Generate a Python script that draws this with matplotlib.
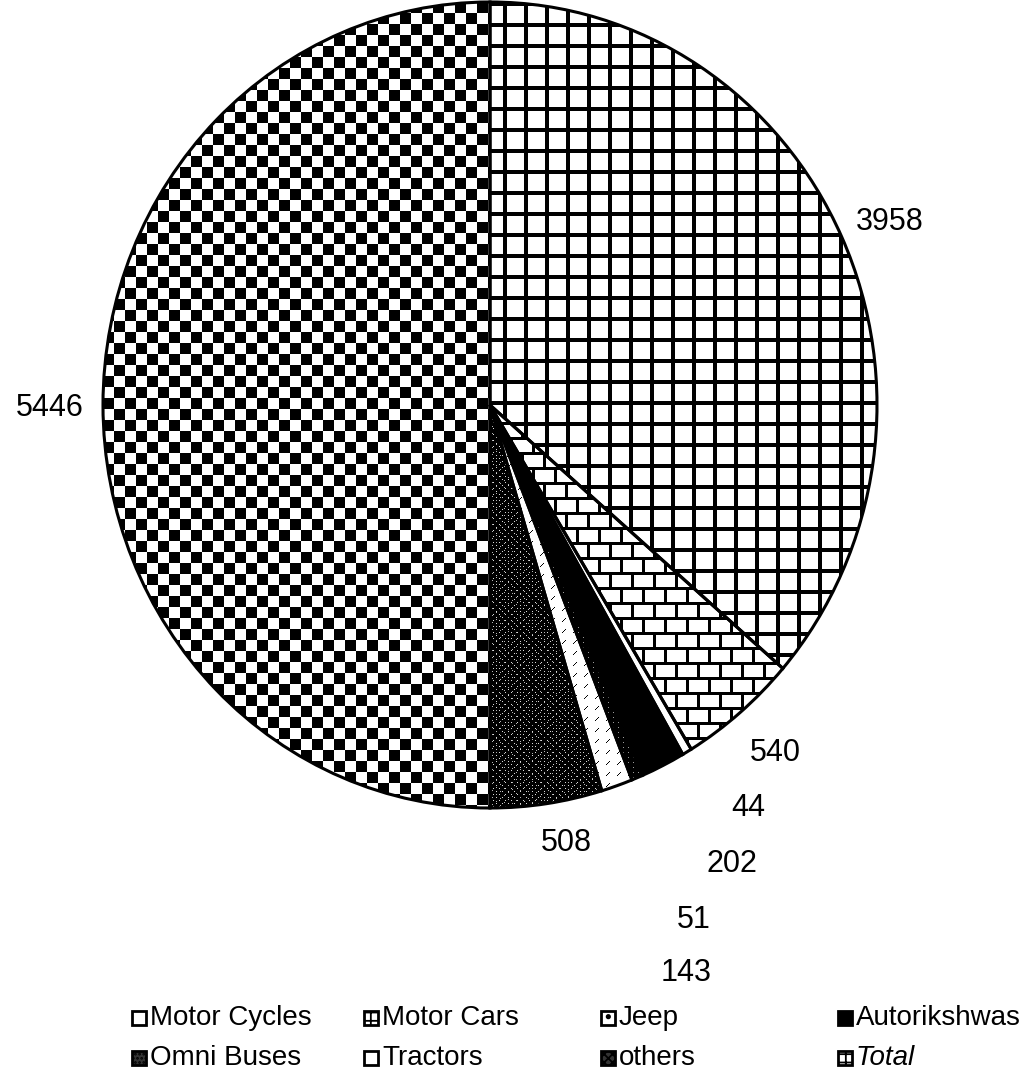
"""
Pie chart of registered vehicles by type, with scanned-looking patterned wedges.
"""
import matplotlib
matplotlib.use('Agg')
import matplotlib.pyplot as plt
from matplotlib.patches import Rectangle
import numpy as np

# data
categories = ['Motor Cycles', 'Motor Cars', 'Jeep', 'Autorikshwas',
              'Omni Buses', 'Tractors', 'others', 'Total']
values = [3958, 540, 44, 202, 51, 143, 508, 5446]

plt.rcParams['font.family'] = ['Liberation Sans', 'DejaVu Sans']
plt.rcParams['hatch.linewidth'] = 1.3

W_PX, H_PX = 1036, 1072
fig = plt.figure(figsize=(W_PX / 100, H_PX / 100), dpi=100, facecolor='white')

# pie is a little taller than wide in the scan
cx, cy, rx, ry = 490, 405, 387, 403
ax = fig.add_axes([(cx - rx) / W_PX, 1 - (cy + ry) / H_PX, 2 * rx / W_PX, 2 * ry / H_PX])

wedges, _ = ax.pie(values, startangle=90, counterclock=False, radius=1,
                   wedgeprops=dict(edgecolor='black', linewidth=2.2, facecolor='none'))
ax.set_aspect('auto')
ax.set_xlim(-1, 1)
ax.set_ylim(-1, 1)
ax.axis('off')

# ---------------------------------------------------------------
# textures (1 = white, 0 = black), one image pixel per output pixel
# ---------------------------------------------------------------
TW, TH = 2 * rx, 2 * ry
yy, xx = np.mgrid[0:TH, 0:TW]


def tex_grid():
    return 1.0 - (((xx - 1) % 21 < 4) | (yy % 21 < 4))


def tex_brick():
    row = yy // 15
    mortar = (yy % 15 < 3) | ((xx + (row % 2) * 11) % 22 < 3)
    return 1.0 - mortar


def tex_checker():
    return ((xx // 11 + yy // 11) % 2).astype(float)


def tex_dark_speckle():
    t = np.zeros(xx.shape)
    t[((xx + yy) % 6 == 0) & (yy % 3 == 0)] = 0.85
    t[((xx - yy) % 7 == 0) & (xx % 4 == 1)] = 0.7
    return t


def tex_omni():
    t = np.zeros(xx.shape)
    t[(xx % 5 == 0) & (yy % 5 == 0)] = 0.6
    return t


def tex_slashes():
    t = np.ones(xx.shape)
    t[((xx + yy) % 11 == 0) & (yy % 11 < 4)] = 0.0
    return t


textures = [tex_grid(), tex_brick(), np.ones(xx.shape), np.zeros(xx.shape),
            tex_omni(), tex_slashes(), tex_dark_speckle(), tex_checker()]

for w, tex in zip(wedges, textures):
    im = ax.imshow(tex, extent=(-1, 1, -1, 1), cmap='gray', vmin=0, vmax=1,
                   interpolation='nearest', aspect='auto', zorder=0)
    im.set_clip_path(w)
    w.set_zorder(2)

# ---------------------------------------------------------------
# value labels (dragged by hand in the original)
# ---------------------------------------------------------------
label_px = [(890, 222), (775, 753), (748, 808), (732, 864),
            (694, 920), (686, 973), (566, 843), (50, 408)]
for v, (px, py) in zip(values, label_px):
    fig.text(px / W_PX, 1 - py / H_PX, str(v), ha='center', va='center',
             fontsize=22, color='black')

# ---------------------------------------------------------------
# legend, 4 columns x 2 rows
# ---------------------------------------------------------------
leg_face = ['white', 'white', 'white', 'black', '#333333', 'white', '#333333', 'white']
leg_hatch = ['', '++', '.', '', '....', '', 'xxxx', '++']
col_x = [132, 364, 601, 838]
row_y = [1018, 1058]
box = 14
for i, name in enumerate(categories):
    x0 = col_x[i % 4]
    y0 = row_y[i // 4]
    fig.patches.append(Rectangle((x0 / W_PX, 1 - (y0 + box / 2) / H_PX), box / W_PX, box / H_PX,
                                 transform=fig.transFigure, facecolor=leg_face[i],
                                 edgecolor='black', hatch=leg_hatch[i], linewidth=2))
    fig.text((x0 + box + 4) / W_PX, 1 - y0 / H_PX, name, ha='left', va='center',
             fontsize=20, style='italic' if name == 'Total' else 'normal')

plt.savefig('out.png', dpi=100, facecolor='white')
plt.close()
